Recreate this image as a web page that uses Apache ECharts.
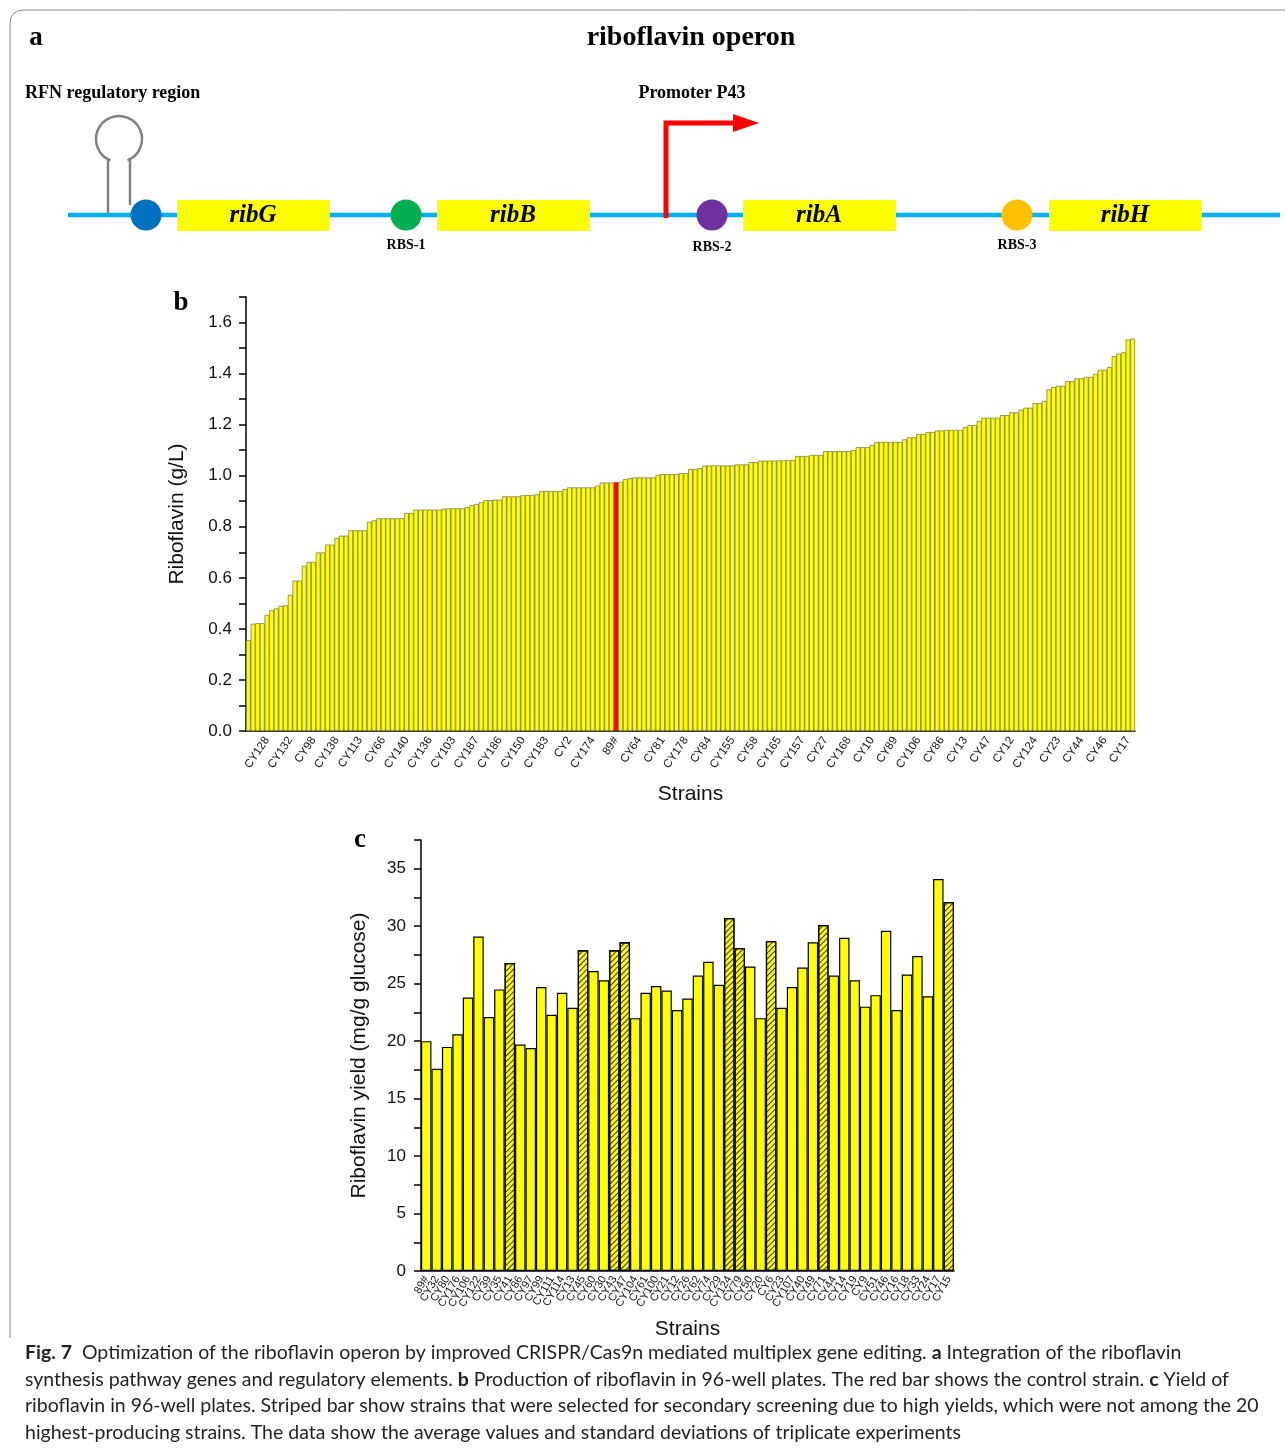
<!DOCTYPE html>
<html>
<head>
<meta charset="utf-8">
<script src="https://cdn.jsdelivr.net/npm/echarts@6/dist/echarts.min.js"></script>
<style>
  html, body { margin: 0; padding: 0; background: #fff; }
  #main { width: 1285px; height: 1453px; }
</style>
</head>
<body>
<div id="main"></div>
<script>
// panel b: tick labels every 5th strain (index 4, 9, ... 189)
const strainTicksB = ['CY128','CY132','CY98','CY138','CY113','CY66','CY140','CY136','CY103','CY187',
  'CY186','CY150','CY183','CY2','CY174','89#','CY64','CY81','CY178','CY84','CY155','CY58','CY165',
  'CY157','CY27','CY168','CY10','CY89','CY106','CY86','CY13','CY47','CY12','CY124','CY23','CY44','CY46','CY17'];

// riboflavin (g/L), sorted screening of 191 strains
const riboflavinB = [
  0.356, 0.420, 0.422, 0.422, 0.455, 0.473, 0.480, 0.490, 0.492, 0.533,
  0.589, 0.589, 0.647, 0.662, 0.662, 0.699, 0.699, 0.730, 0.730, 0.756,
  0.765, 0.765, 0.786, 0.786, 0.786, 0.786, 0.819, 0.825, 0.833, 0.833,
  0.833, 0.833, 0.833, 0.833, 0.854, 0.854, 0.867, 0.867, 0.867, 0.867,
  0.867, 0.867, 0.871, 0.872, 0.872, 0.872, 0.872, 0.877, 0.885, 0.889,
  0.896, 0.904, 0.904, 0.906, 0.906, 0.919, 0.919, 0.919, 0.919, 0.923,
  0.924, 0.924, 0.927, 0.940, 0.940, 0.940, 0.940, 0.940, 0.947, 0.954,
  0.954, 0.954, 0.954, 0.954, 0.954, 0.961, 0.973, 0.973, 0.973, 0.975,
  0.976, 0.986, 0.990, 0.993, 0.993, 0.993, 0.993, 0.993, 1.003, 1.006,
  1.006, 1.006, 1.006, 1.010, 1.010, 1.026, 1.026, 1.029, 1.039, 1.040,
  1.040, 1.040, 1.040, 1.040, 1.040, 1.044, 1.044, 1.044, 1.053, 1.053,
  1.059, 1.059, 1.059, 1.059, 1.060, 1.060, 1.061, 1.061, 1.077, 1.077,
  1.077, 1.081, 1.081, 1.081, 1.096, 1.096, 1.096, 1.096, 1.096, 1.096,
  1.100, 1.112, 1.112, 1.112, 1.120, 1.132, 1.132, 1.132, 1.132, 1.132,
  1.132, 1.142, 1.150, 1.150, 1.163, 1.163, 1.171, 1.171, 1.177, 1.177,
  1.179, 1.179, 1.179, 1.179, 1.190, 1.198, 1.198, 1.214, 1.227, 1.227,
  1.227, 1.227, 1.237, 1.237, 1.248, 1.248, 1.258, 1.266, 1.266, 1.284,
  1.284, 1.293, 1.338, 1.347, 1.352, 1.352, 1.370, 1.370, 1.381, 1.381,
  1.387, 1.387, 1.399, 1.415, 1.415, 1.425, 1.468, 1.478, 1.483, 1.533,
  1.537
];

// panel c
const strainsC = ['89#','CY32','CY80','CY176','CY106','CY122','CY39','CY35','CY41','CY86','CY97','CY99',
  'CY111','CY114','CY13','CY45','CY60','CY30','CY43','CY47','CY104','CY61','CY100','CY21','CY12','CY26',
  'CY62','CY74','CY29','CY124','CY79','CY50','CY20','CY6','CY23','CY107','CY40','CY49','CY71','CY44',
  'CY14','CY19','CY9','CY51','CY46','CY16','CY18','CY33','CY24','CY17','CY15'];
const yieldC = [20.0, 17.6, 19.5, 20.6, 23.8, 29.1, 22.1, 24.5, 26.8, 19.7, 19.4, 24.7,
  22.3, 24.2, 22.9, 27.9, 26.1, 25.3, 27.9, 28.6, 22.0, 24.2, 24.8, 24.4, 22.7, 23.7,
  25.7, 26.9, 24.9, 30.7, 28.1, 26.5, 22.0, 28.7, 22.9, 24.7, 26.4, 28.6, 30.1, 25.7,
  29.0, 25.3, 23.0, 24.0, 29.6, 22.7, 25.8, 27.4, 23.9, 34.1, 32.1];
const stripedC = ['CY41','CY45','CY43','CY47','CY124','CY79','CY6','CY71','CY15'];

const genes = ['ribG', 'ribB', 'ribA', 'ribH'];
const rbsLabels = ['', 'RBS-1', 'RBS-2', 'RBS-3'];

const captionLines = [
  '{b|Fig. 7}  Optimization of the riboflavin operon by improved CRISPR/Cas9n mediated multiplex gene editing. {b|a} Integration of the riboflavin',
  'synthesis pathway genes and regulatory elements. {b|b} Production of riboflavin in 96-well plates. The red bar shows the control strain. {b|c} Yield of',
  'riboflavin in 96-well plates. Striped bar show strains that were selected for secondary screening due to high yields, which were not among the 20',
  'highest-producing strains. The data show the average values and standard deviations of triplicate experiments'
];

const categoriesB = riboflavinB.map((v, i) => (i % 5 === 4 ? strainTicksB[(i - 4) / 5] : ''));
const controlIndex = categoriesB.indexOf('89#');
const labelledB = (index) => index % 5 === 4;

const SERIF = '"Liberation Serif", "Times New Roman", serif';
const SANS = '"Liberation Sans", Arial, sans-serif';

const chart = echarts.init(document.getElementById('main'));

// ----- panel a schematic -----
const geneX = [177, 437, 743, 1049];
const rbsX = [146, 406, 712, 1017];
const rbsColor = ['#0070c0', '#00b050', '#7030a0', '#ffc000'];
const lineY = 215;
const frame = { stroke: '#8a8a8a', lineWidth: 1, fill: null };
const schematic = [
  { type: 'polyline', shape: { points: [[10, 1338], [10, 24]] }, style: frame },
  { type: 'bezierCurve', shape: { x1: 10, y1: 24, cpx1: 10, cpy1: 10, x2: 24, y2: 10 }, style: frame },
  { type: 'polyline', shape: { points: [[24, 10], [1290, 10]] }, style: frame },
  { type: 'text', x: 36, y: 38, style: { text: 'a', font: 'bold 27px ' + SERIF, fill: '#000', textAlign: 'center', textVerticalAlign: 'middle' } },
  { type: 'text', x: 691, y: 38, style: { text: 'riboflavin operon', font: 'bold 28px ' + SERIF, fill: '#000', textAlign: 'center', textVerticalAlign: 'middle' } },
  { type: 'text', x: 25, y: 93, style: { text: 'RFN regulatory region', font: 'bold 18px ' + SERIF, fill: '#000', textAlign: 'left', textVerticalAlign: 'middle' } },
  { type: 'text', x: 692, y: 93, style: { text: 'Promoter P43', font: 'bold 18px ' + SERIF, fill: '#000', textAlign: 'center', textVerticalAlign: 'middle' } },
  { type: 'line', shape: { x1: 68, y1: lineY, x2: 1280, y2: lineY }, style: { stroke: '#00b0f0', lineWidth: 4.5 } },
  // hairpin
  { type: 'line', shape: { x1: 108, y1: 158, x2: 108, y2: 214 }, style: { stroke: '#808080', lineWidth: 2.5 } },
  { type: 'line', shape: { x1: 130, y1: 158, x2: 130, y2: 205 }, style: { stroke: '#808080', lineWidth: 2.5 } },
  { type: 'arc', shape: { cx: 119, cy: 139, r: 23, startAngle: Math.PI * 0.62, endAngle: Math.PI * 0.38 },
    style: { stroke: '#808080', lineWidth: 2.5, fill: null } },
  // promoter arrow
  { type: 'polyline', shape: { points: [[666, 218], [666, 123], [736, 123]] }, style: { stroke: '#ff0000', lineWidth: 5, fill: null } },
  { type: 'polygon', shape: { points: [[733, 114], [759, 123], [733, 132]] }, style: { fill: '#ff0000' } }
];
genes.forEach((g, i) => {
  schematic.push({ type: 'rect', shape: { x: geneX[i], y: 200, width: 153, height: 31 }, style: { fill: '#ffff00' } });
  schematic.push({ type: 'text', x: geneX[i] + 76, y: 216, style: { text: g, font: 'italic bold 25px ' + SERIF, fill: '#000', textAlign: 'center', textVerticalAlign: 'middle' } });
  schematic.push({ type: 'circle', shape: { cx: rbsX[i], cy: lineY, r: 15.5 }, style: { fill: rbsColor[i] } });
  if (rbsLabels[i]) {
    schematic.push({ type: 'text', x: rbsX[i], y: i === 2 ? 247 : 245, style: { text: rbsLabels[i], font: 'bold 14px ' + SERIF, fill: '#000', textAlign: 'center', textVerticalAlign: 'middle' } });
  }
});
schematic.push({ type: 'text', x: 181, y: 303, style: { text: 'b', font: 'bold 27px ' + SERIF, fill: '#000', textAlign: 'center', textVerticalAlign: 'middle' } });
schematic.push({ type: 'text', x: 360, y: 840, style: { text: 'c', font: 'bold 27px ' + SERIF, fill: '#000', textAlign: 'center', textVerticalAlign: 'middle' } });

captionLines.forEach((line, i) => {
  schematic.push({
    type: 'text', x: 25, y: 1353 + i * 26.5,
    style: {
      text: line, fill: '#231f20', textVerticalAlign: 'middle',
      fontFamily: 'Lato', fontSize: 19.5,
      rich: { b: { fontFamily: 'Lato', fontSize: 19.5, fontWeight: 'bold', fill: '#231f20' } }
    }
  });
});

const option = {
  backgroundColor: '#fff',
  animation: false,
  grid: [
    { left: 246, top: 297, width: 889, height: 434 },
    { left: 421, top: 840, width: 533, height: 431 }
  ],
  xAxis: [
    {
      gridIndex: 0, type: 'category', data: categoriesB,
      name: 'Strains', nameLocation: 'middle', nameGap: 53, nameMoveOverlap: false,
      nameTextStyle: { fontFamily: SANS, fontSize: 21, color: '#111' },
      axisLine: { lineStyle: { color: '#000', width: 1.5 } },
      axisTick: { interval: labelledB, alignWithLabel: true, length: 5, lineStyle: { color: '#000', width: 1.5 } },
      axisLabel: { interval: labelledB, rotate: 56, margin: 7, fontFamily: SANS, fontSize: 11.5, color: '#111' }
    },
    {
      gridIndex: 1, type: 'category', data: strainsC,
      name: 'Strains', nameLocation: 'middle', nameGap: 48, nameMoveOverlap: false,
      nameTextStyle: { fontFamily: SANS, fontSize: 21, color: '#111' },
      axisLine: { lineStyle: { color: '#000', width: 1.5 } },
      axisTick: { interval: 0, alignWithLabel: true, length: 5, lineStyle: { color: '#000', width: 1.2 } },
      axisLabel: { interval: 0, rotate: 60, margin: 6, fontFamily: SANS, fontSize: 11, color: '#111' }
    }
  ],
  yAxis: [
    {
      gridIndex: 0, type: 'value', min: 0, max: 1.7, interval: 0.1,
      name: 'Riboflavin (g/L)', nameLocation: 'middle', nameGap: 58,
      nameTextStyle: { fontFamily: SANS, fontSize: 21, color: '#111' },
      axisLine: { show: true, lineStyle: { color: '#000', width: 1.5 } },
      axisTick: { show: true, length: 7, lineStyle: { color: '#000', width: 1.5 } },
      splitLine: { show: false },
      axisLabel: {
        margin: 14, fontFamily: SANS, fontSize: 17, color: '#111',
        formatter: (v) => (Math.round(v * 10) % 2 === 0 && v < 1.65 ? v.toFixed(1) : '')
      }
    },
    {
      gridIndex: 1, type: 'value', min: 0, max: 37.5, interval: 2.5,
      name: 'Riboflavin yield (mg/g glucose)', nameLocation: 'middle', nameGap: 51,
      nameTextStyle: { fontFamily: SANS, fontSize: 21, color: '#111' },
      axisLine: { show: true, lineStyle: { color: '#000', width: 1.5 } },
      axisTick: { show: true, length: 7, lineStyle: { color: '#000', width: 1.5 } },
      splitLine: { show: false },
      axisLabel: {
        margin: 15, fontFamily: SANS, fontSize: 17, color: '#111',
        formatter: (v) => (v % 5 === 0 ? String(v) : '')
      }
    }
  ],
  series: [
    {
      type: 'bar', xAxisIndex: 0, yAxisIndex: 0, barCategoryGap: '0%',
      itemStyle: { color: '#ffff00', borderColor: '#5a5a3a', borderWidth: 0.6 },
      data: riboflavinB.map((v, i) => (i === controlIndex
        ? { value: v, itemStyle: { color: '#ff0000', borderColor: '#ff0000' } }
        : v))
    },
    {
      type: 'bar', xAxisIndex: 1, yAxisIndex: 1, barCategoryGap: '0%',
      itemStyle: { color: '#ffff00', borderColor: '#000', borderWidth: 1.2 },
      data: yieldC.map((v, i) => (stripedC.includes(strainsC[i])
        ? { value: v, itemStyle: { decal: { symbol: 'rect', symbolSize: 1, rotation: -Math.PI / 4,
            dashArrayX: [1, 0], dashArrayY: [1, 3], color: '#333' } } }
        : v))
    }
  ],
  graphic: { elements: schematic }
};

chart.setOption(option);
</script>
</body>
</html>
